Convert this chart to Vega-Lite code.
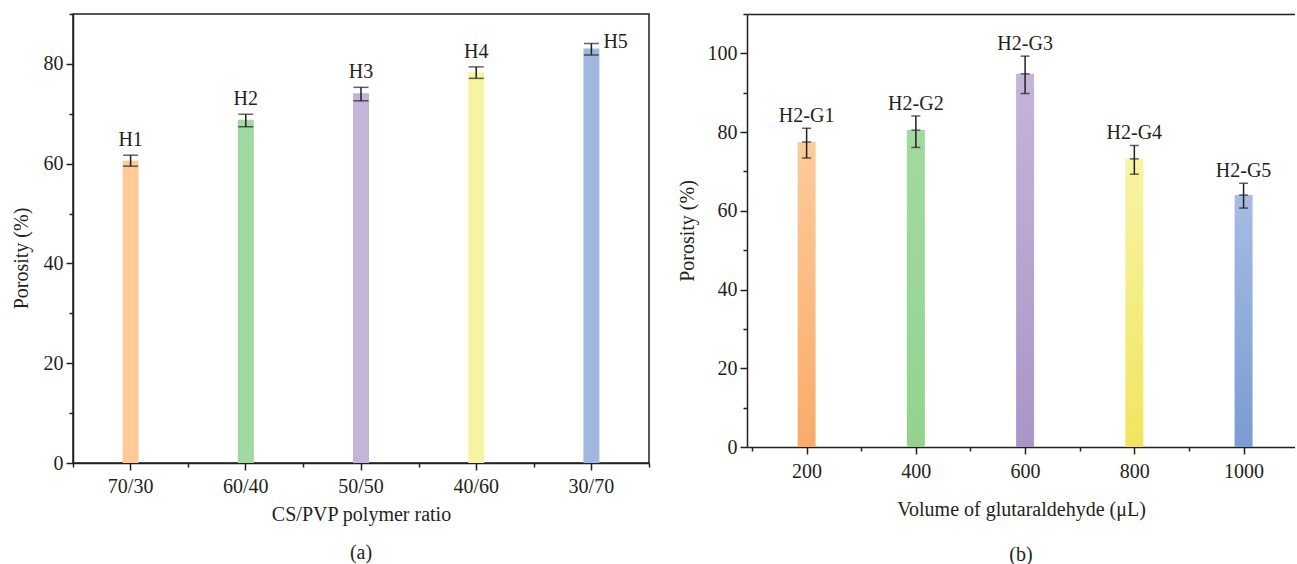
{
  "$schema": "https://vega.github.io/schema/vega-lite/v6.json",
  "padding": {"left": 10, "top": 12, "right": 0, "bottom": 0},
  "spacing": 26,
  "config": {
    "font": "Liberation Serif",
    "view": {"stroke": null},
    "axis": {
      "labelFont": "Liberation Serif",
      "titleFont": "Liberation Serif",
      "labelFontSize": 20,
      "titleFontSize": 20,
      "titleFontWeight": "normal",
      "labelColor": "#231F20",
      "titleColor": "#231F20",
      "domainColor": "#231F20",
      "tickColor": "#231F20",
      "domainWidth": 1.5,
      "tickWidth": 1.5,
      "grid": false
    },
    "title": {"font": "Liberation Serif", "fontSize": 20, "fontWeight": "normal", "color": "#231F20"}
  },
  "hconcat": [
    {
      "width": 576,
      "height": 449,
      "view": {"stroke": "#231F20", "strokeWidth": 1.5},
      "title": {"text": "(a)", "orient": "bottom", "anchor": "middle", "offset": 19},
      "data": {
        "values": [
          {"ratio": "70/30", "label": "H1", "porosity": 60.6, "low": 59.5, "high": 61.7},
          {"ratio": "60/40", "label": "H2", "porosity": 68.8, "low": 67.4, "high": 69.9},
          {"ratio": "50/50", "label": "H3", "porosity": 74.1, "low": 72.6, "high": 75.3},
          {"ratio": "40/60", "label": "H4", "porosity": 78.3, "low": 77.1, "high": 79.4},
          {"ratio": "30/70", "label": "H5", "porosity": 83.1, "low": 81.8, "high": 84.1}
        ]
      },
      "layer": [
        {
          "mark": {"type": "bar", "width": 16},
          "encoding": {
            "x": {
              "field": "ratio", "type": "nominal",
              "scale": {"domain": ["70/30", "60/40", "50/50", "40/60", "30/70"], "paddingInner": 0, "paddingOuter": 0},
              "axis": {"orient": "bottom", "title": "CS/PVP polymer ratio", "labelAngle": 0, "tickSize": 7, "labelPadding": 6, "titlePadding": 8, "domain": true}
            },
            "y": {
              "field": "porosity", "type": "quantitative",
              "scale": {"domain": [0, 90], "nice": false, "zero": true},
              "axis": {"orient": "left", "title": "Porosity (%)", "values": [0, 20, 40, 60, 80], "tickSize": 7, "labelPadding": 3, "titlePadding": 12, "titleY": 244}
            },
            "color": {
              "field": "label", "type": "nominal",
              "scale": {"domain": ["H1", "H2", "H3", "H4", "H5"], "range": ["#FDCA98", "#A0D9A0", "#C3B4D8", "#F6F4A0", "#A0B8E0"]},
              "legend": null
            }
          }
        },
        {
          "mark": {"type": "rule", "color": "#231F20", "strokeWidth": 1.5},
          "encoding": {
            "x": {
              "field": "ratio", "type": "nominal",
              "scale": {"domain": ["70/30", "60/40", "50/50", "40/60", "30/70"], "paddingInner": 0, "paddingOuter": 0},
              "axis": {"orient": "bottom", "title": null, "labels": false, "domain": false, "tickBand": "extent", "tickSize": 4}
            },
            "y": {
              "field": "low", "type": "quantitative",
              "axis": {"orient": "left", "title": null, "labels": false, "domain": false, "values": [10, 30, 50, 70, 90], "tickSize": 4}
            },
            "y2": {"field": "high"}
          }
        },
        {
          "mark": {"type": "tick", "orient": "horizontal", "color": "#231F20", "size": 15, "thickness": 1.5},
          "encoding": {
            "x": {"field": "ratio", "type": "nominal", "axis": null},
            "y": {"field": "low", "type": "quantitative", "axis": null}
          }
        },
        {
          "mark": {"type": "tick", "orient": "horizontal", "color": "#231F20", "size": 15, "thickness": 1.5},
          "encoding": {
            "x": {"field": "ratio", "type": "nominal", "axis": null},
            "y": {"field": "high", "type": "quantitative", "axis": null}
          }
        },
        {
          "transform": [{"filter": "datum.label != 'H5'"}],
          "mark": {"type": "text", "baseline": "alphabetic", "dy": -9, "fontSize": 20, "font": "Liberation Serif", "color": "#231F20"},
          "encoding": {
            "x": {"field": "ratio", "type": "nominal", "axis": null},
            "y": {"field": "high", "type": "quantitative", "axis": null},
            "text": {"field": "label"}
          }
        },
        {
          "transform": [{"filter": "datum.label == 'H5'"}],
          "mark": {"type": "text", "align": "left", "baseline": "alphabetic", "dx": 12, "dy": 5, "fontSize": 20, "font": "Liberation Serif", "color": "#231F20"},
          "encoding": {
            "x": {"field": "ratio", "type": "nominal", "axis": null},
            "y": {"field": "high", "type": "quantitative", "axis": null},
            "text": {"field": "label"}
          }
        }
      ],
      "resolve": {"axis": {"x": "independent", "y": "independent"}}
    },
    {
      "width": 548,
      "height": 433,
      "title": {"text": "(b)", "orient": "bottom", "anchor": "middle", "offset": 26},
      "data": {
        "values": [
          {"volume": 200, "label": "H2-G1", "porosity": 77.5, "low": 73.4, "high": 81.0},
          {"volume": 400, "label": "H2-G2", "porosity": 80.5, "low": 76.1, "high": 84.1},
          {"volume": 600, "label": "H2-G3", "porosity": 94.8, "low": 89.8, "high": 99.3},
          {"volume": 800, "label": "H2-G4", "porosity": 73.2, "low": 69.3, "high": 76.6},
          {"volume": 1000, "label": "H2-G5", "porosity": 64.0, "low": 60.7, "high": 67.0}
        ]
      },
      "layer": [
        {
          "transform": [{"filter": "datum.volume == 200"}],
          "mark": {"type": "bar", "width": 18, "color": {"gradient": "linear", "x1": 0, "y1": 0, "x2": 0, "y2": 1, "stops": [{"offset": 0, "color": "#FCCB9B"}, {"offset": 1, "color": "#F8AC69"}]}},
          "encoding": {
            "x": {
              "field": "volume", "type": "quantitative",
              "scale": {"domain": [100, 1085], "nice": false, "zero": false},
              "axis": {"orient": "bottom", "title": "Volume of glutaraldehyde (μL)", "values": [200, 400, 600, 800, 1000], "format": "d", "tickSize": 7, "labelPadding": 7, "titlePadding": 18}
            },
            "y": {
              "field": "porosity", "type": "quantitative",
              "scale": {"domain": [0, 110], "nice": false, "zero": true},
              "axis": {"orient": "left", "title": "Porosity (%)", "values": [0, 20, 40, 60, 80, 100], "tickSize": 7, "labelPadding": 3, "titlePadding": 10}
            }
          }
        },
        {
          "transform": [{"filter": "datum.volume == 400"}],
          "mark": {"type": "bar", "width": 18, "color": {"gradient": "linear", "x1": 0, "y1": 0, "x2": 0, "y2": 1, "stops": [{"offset": 0, "color": "#A2D9A0"}, {"offset": 1, "color": "#93D38E"}]}},
          "encoding": {
            "x": {"field": "volume", "type": "quantitative", "axis": null},
            "y": {"field": "porosity", "type": "quantitative", "axis": null}
          }
        },
        {
          "transform": [{"filter": "datum.volume == 600"}],
          "mark": {"type": "bar", "width": 18, "color": {"gradient": "linear", "x1": 0, "y1": 0, "x2": 0, "y2": 1, "stops": [{"offset": 0, "color": "#C4B5D9"}, {"offset": 1, "color": "#A995C8"}]}},
          "encoding": {
            "x": {"field": "volume", "type": "quantitative", "axis": null},
            "y": {"field": "porosity", "type": "quantitative", "axis": null}
          }
        },
        {
          "transform": [{"filter": "datum.volume == 800"}],
          "mark": {"type": "bar", "width": 18, "color": {"gradient": "linear", "x1": 0, "y1": 0, "x2": 0, "y2": 1, "stops": [{"offset": 0, "color": "#F7F4A6"}, {"offset": 1, "color": "#F1E55E"}]}},
          "encoding": {
            "x": {"field": "volume", "type": "quantitative", "axis": null},
            "y": {"field": "porosity", "type": "quantitative", "axis": null}
          }
        },
        {
          "transform": [{"filter": "datum.volume == 1000"}],
          "mark": {"type": "bar", "width": 18, "color": {"gradient": "linear", "x1": 0, "y1": 0, "x2": 0, "y2": 1, "stops": [{"offset": 0, "color": "#A6BCE3"}, {"offset": 1, "color": "#7A9CD2"}]}},
          "encoding": {
            "x": {"field": "volume", "type": "quantitative", "axis": null},
            "y": {"field": "porosity", "type": "quantitative", "axis": null}
          }
        },
        {
          "mark": {"type": "rule", "color": "#231F20", "strokeWidth": 1.5},
          "encoding": {
            "x": {
              "field": "volume", "type": "quantitative",
              "axis": {"orient": "bottom", "title": null, "labels": false, "domain": false, "values": [100, 300, 500, 700, 900], "tickSize": 4}
            },
            "y": {
              "field": "low", "type": "quantitative",
              "axis": {"orient": "left", "title": null, "labels": false, "domain": false, "values": [10, 30, 50, 70, 90, 110], "tickSize": 4}
            },
            "y2": {"field": "high"}
          }
        },
        {
          "mark": {"type": "tick", "orient": "horizontal", "color": "#231F20", "size": 9, "thickness": 1.5},
          "encoding": {
            "x": {
              "field": "volume", "type": "quantitative",
              "axis": {"orient": "top", "title": null, "labels": false, "ticks": false, "domain": true}
            },
            "y": {"field": "low", "type": "quantitative", "axis": null}
          }
        },
        {
          "mark": {"type": "tick", "orient": "horizontal", "color": "#231F20", "size": 9, "thickness": 1.5},
          "encoding": {
            "x": {"field": "volume", "type": "quantitative", "axis": null},
            "y": {"field": "high", "type": "quantitative", "axis": null}
          }
        },
        {
          "mark": {"type": "tick", "orient": "horizontal", "color": "#231F20", "size": 9, "thickness": 1.5},
          "encoding": {
            "x": {"field": "volume", "type": "quantitative", "axis": null},
            "y": {"field": "porosity", "type": "quantitative", "axis": null}
          }
        },
        {
          "mark": {"type": "text", "baseline": "alphabetic", "dy": -6, "fontSize": 20, "font": "Liberation Serif", "color": "#231F20"},
          "encoding": {
            "x": {"field": "volume", "type": "quantitative", "axis": null},
            "y": {"field": "high", "type": "quantitative", "axis": null},
            "text": {"field": "label"}
          }
        }
      ],
      "resolve": {"axis": {"x": "independent", "y": "independent"}}
    }
  ]
}
